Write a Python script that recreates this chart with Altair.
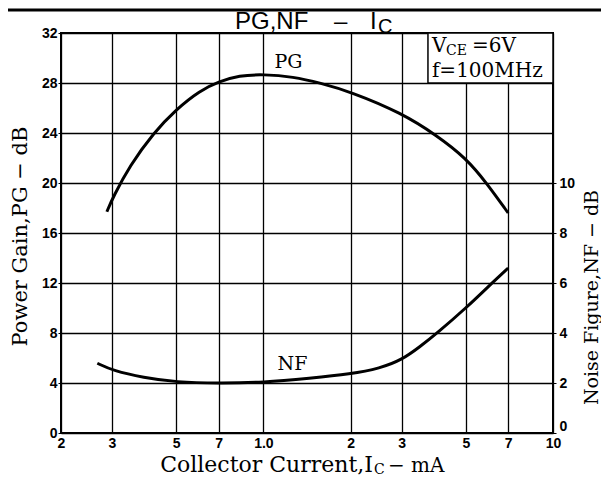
import altair as alt
import pandas as pd

# ---- data ----
pg_current = [0.288, 0.303, 0.346, 0.417, 0.5, 0.604, 0.7, 0.824, 1.0, 1.268, 1.57, 2.0, 3.0, 3.97, 5.0, 5.9, 7.0]
pg_gain = [17.7, 18.9, 21.4, 24.0, 25.9, 27.4, 28.1, 28.6, 28.7, 28.5, 28.0, 27.3, 25.6, 23.8, 22.0, 20.0, 17.6]

nf_current = [0.267, 0.303, 0.385, 0.5, 0.7, 1.0, 1.45, 2.0, 2.53, 3.0, 3.47, 3.97, 5.0, 6.22, 7.0]
nf_db = [2.79, 2.49, 2.22, 2.03, 1.99, 2.02, 2.19, 2.36, 2.59, 2.92, 3.45, 3.99, 4.99, 6.05, 6.6]

x_ticks = [0.2, 0.3, 0.5, 0.7, 1, 2, 3, 5, 7, 10]
x_tick_labels = ["2", "3", "5", "7", "1.0", "2", "3", "5", "7", "10"]
pg_ticks = [0, 4, 8, 12, 16, 20, 24, 28, 32]
nf_ticks = [0, 2, 4, 6, 8, 10]

pg_df = pd.DataFrame({"ic": pg_current, "pg": pg_gain})
nf_df = pd.DataFrame({"ic": nf_current, "nf": nf_db})

label_expr = "".join(
    f"datum.value == {v} ? '{t}' : " for v, t in zip(x_ticks, x_tick_labels)
) + "''"

SERIF = "DejaVu Serif"
SANS = "Liberation Sans"

x_enc = alt.X(
    "ic:Q",
    scale=alt.Scale(type="log", domain=[0.2, 10], nice=False),
    axis=alt.Axis(
        values=x_ticks, labelExpr=label_expr, grid=True, ticks=False, domain=False,
        title=None, labelPadding=3, labelFont=SANS, labelFontWeight="bold",
        labelFontSize=14, labelColor="black", labelFlush=False,
        gridColor="black", gridWidth=1.3, gridOpacity=1,
    ),
)

pg_y = alt.Y(
    "pg:Q",
    scale=alt.Scale(domain=[0, 32], nice=False, zero=False),
    axis=alt.Axis(
        values=pg_ticks, grid=True, domain=False, tickSize=3, tickColor="black",
        labelPadding=1, labelFont=SANS, labelFontWeight="bold", labelFontSize=14,
        labelColor="black", gridColor="black", gridWidth=1.3, gridOpacity=1,
        title="Power Gain,PG − dB", titleX=-41, titleY=203, titleAngle=270,
        titleAlign="center", titleBaseline="middle", titleFont=SERIF,
        titleFontSize=21, titleFontWeight="normal", titleColor="black",
    ),
)

pg_line = alt.Chart(pg_df).mark_line(
    color="black", strokeWidth=3, interpolate="basis"
).encode(x=x_enc, y=pg_y)

# legend box (white background with border)
box_df = pd.DataFrame({"ic": [3.7], "ic2": [10.0], "pg": [28.0], "pg2": [32.0]})
box = alt.Chart(box_df).mark_rect(fill="white", stroke="black", strokeWidth=1.5).encode(
    x="ic:Q", x2="ic2:Q", y="pg:Q", y2="pg2:Q"
)

# curve labels
lab_df = pd.DataFrame({"ic": [1.22, 1.26], "pg": [29.7, 5.5], "t": ["PG", "NF"]})
labels = alt.Chart(lab_df).mark_text(font=SERIF, fontSize=19, color="black").encode(
    x="ic:Q", y="pg:Q", text="t:N"
)

# condition text  V_CE = 6V / f = 100MHz
cond_df = pd.DataFrame({
    "ic": [3.82, 3.82, 3.82, 3.82],
    "pg": [30.95, 30.95, 30.95, 28.95],
})
def cond_text(row, text, size, dx, dy):
    return alt.Chart(cond_df.iloc[[row]]).mark_text(
        font=SERIF, fontSize=size, color="black", align="left",
        baseline="middle", dx=dx, dy=dy
    ).encode(x="ic:Q", y="pg:Q", text=alt.value(text))

cond = (
    cond_text(0, "V", 20, 0, 0)
    + cond_text(1, "CE", 14, 14, 5)
    + cond_text(2, "=6V", 20, 40, 0)
    + cond_text(3, "f=100MHz", 20, 0, 0)
)

one = pd.DataFrame({"a": [0]})
def free_text(text, x, y, size, font, align="left", baseline="alphabetic"):
    return alt.Chart(one).mark_text(
        font=font, fontSize=size, color="black", align=align, baseline=baseline
    ).encode(x=alt.value(x), y=alt.value(y), text=alt.value(text))

title = (
    free_text("PG,NF", 174, -4, 24, SANS)
    + free_text("–", 273, -4, 24, SANS)
    + free_text("I", 309, -4, 24, SANS)
    + free_text("C", 317, 0, 20, SANS)
)

xtitle = (
    free_text("Collector Current,I", 312, 439, 22, SERIF, align="right")
    + free_text("C", 313, 441, 14, SERIF)
    + free_text("− mA", 327, 439, 20, SERIF)
)

top_rule = alt.Chart(one).mark_rule(color="black", strokeWidth=3).encode(
    x=alt.value(-53), x2=alt.value(540), y=alt.value(-23)
)

left_layer = alt.layer(pg_line, box, labels, cond, title, xtitle, top_rule)

nf_line = alt.Chart(nf_df).mark_line(
    color="black", strokeWidth=3, interpolate="basis"
).encode(
    x=x_enc,
    y=alt.Y(
        "nf:Q",
        scale=alt.Scale(domain=[0, 16], nice=False, zero=False),
        axis=alt.Axis(
            orient="right", values=nf_ticks, grid=False, domain=False, tickSize=3,
            tickColor="black", labelPadding=3, labelFont=SANS, labelFontWeight="bold",
            labelFontSize=14, labelColor="black", labelFlush=True,
            title="Noise Figure,NF − dB", titleX=38, titleY=264, titleAngle=270,
            titleAlign="center", titleBaseline="middle", titleFont=SERIF,
            titleFontSize=19, titleFontWeight="normal", titleColor="black",
        ),
    ),
)

chart = alt.layer(left_layer, nf_line).resolve_scale(y="independent").properties(
    width=492, height=400,
    autosize=alt.AutoSizeParams(type="none"),
    padding={"left": 53, "top": 25, "right": 48, "bottom": 45},
    background="white",
).configure_view(stroke="black", strokeWidth=2)

chart.save("out.html", embed_options={"renderer": "svg", "actions": False})
